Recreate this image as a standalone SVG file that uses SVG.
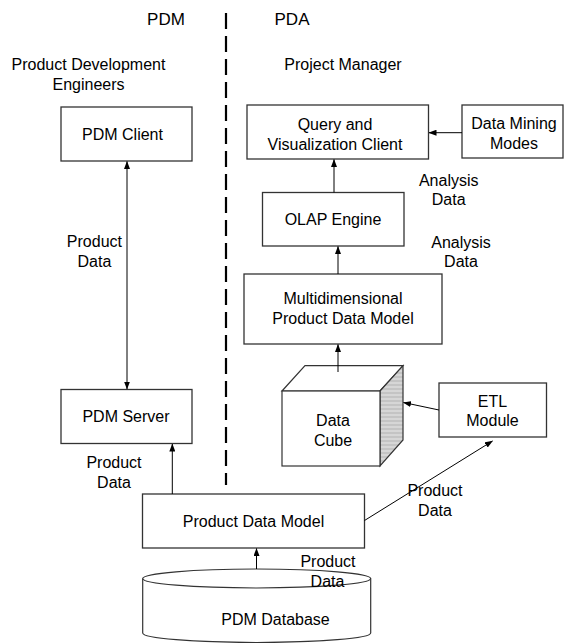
<svg xmlns="http://www.w3.org/2000/svg" width="566" height="643" viewBox="0 0 566 643">
<style>
text{font-family:"Liberation Sans",Arial,sans-serif;font-size:16px;fill:#000;text-anchor:middle}
.title{font-size:17px}
.box{fill:#fff;stroke:#333;stroke-width:1.3}
.ln{fill:none;stroke:#000;stroke-width:1}
</style>
<defs>
<marker id="ah" markerWidth="8" markerHeight="6" refX="7.5" refY="3" orient="auto" markerUnits="userSpaceOnUse">
<path d="M0,0 L8,3 L0,6 z" fill="#000"/>
</marker>
<marker id="ahs" markerWidth="8" markerHeight="6" refX="0.5" refY="3" orient="auto" markerUnits="userSpaceOnUse">
<path d="M8,0 L0,3 L8,6 z" fill="#000"/>
</marker>
<pattern id="stripes" width="6" height="4" patternUnits="userSpaceOnUse">
<rect width="6" height="4" fill="#d6d6d6"/>
<rect width="6" height="2" fill="#c4c4c4"/>
</pattern>
</defs>
<rect width="566" height="643" fill="#fff"/>

<g id="titles">
<text class="title" x="166" y="25">PDM</text>
<text class="title" x="292" y="25">PDA</text>
<line x1="226" y1="13" x2="226" y2="485" stroke="#000" stroke-width="2.2" stroke-dasharray="16 7"/>
</g>

<g id="engineers">
<text x="88.5" y="70">Product Development</text>
<text x="88.5" y="90">Engineers</text>
</g>
<g id="project-manager">
<text x="343" y="70">Project Manager</text>
</g>

<g id="pdm-client">
<rect class="box" x="61" y="107" width="131" height="54"/>
<text x="122.5" y="139.5">PDM Client</text>
</g>

<g id="query-client">
<rect class="box" x="247" y="105" width="181.5" height="54"/>
<text x="335" y="129.5">Query and</text>
<text x="335" y="150">Visualization Client</text>
</g>

<g id="data-mining">
<rect class="box" x="462" y="105" width="101" height="53"/>
<text x="514" y="129">Data Mining</text>
<text x="514" y="149">Modes</text>
</g>

<g id="olap">
<rect class="box" x="262.5" y="192.5" width="141.5" height="53.5"/>
<text x="333" y="225">OLAP Engine</text>
</g>

<g id="multidim">
<rect class="box" x="244" y="274" width="198" height="70"/>
<text x="343" y="303.5">Multidimensional</text>
<text x="343" y="323.5">Product Data Model</text>
</g>

<g id="data-cube">
<polygon points="282,391 305,365.7 403,365.7 380,391" fill="#fff" stroke="#333" stroke-width="1.2"/>
<polygon points="380,391 403,365.7 403,440 380,466" fill="url(#stripes)" stroke="#333" stroke-width="1.2"/>
<rect x="282" y="391" width="98" height="75" fill="#fff" stroke="#333" stroke-width="1.2"/>
<text x="333" y="426">Data</text>
<text x="333" y="446">Cube</text>
</g>

<g id="etl">
<rect class="box" x="439" y="383" width="107.5" height="54"/>
<text x="492.5" y="406.5">ETL</text>
<text x="492.5" y="426">Module</text>
</g>

<g id="pdm-server">
<rect class="box" x="61" y="389.5" width="131" height="54"/>
<text x="126" y="421.5">PDM Server</text>
</g>

<g id="product-data-model">
<rect class="box" x="142.5" y="494" width="222" height="54"/>
<text x="253.5" y="527">Product Data Model</text>
</g>

<g id="pdm-database">
<path d="M142.7,578.5 L142.7,633 A114,9.5 0 0 0 370.7,633 L370.7,578.5" fill="#fff" stroke="#333" stroke-width="1.2"/>
<ellipse cx="256.7" cy="578.5" rx="114" ry="9.5" fill="#fff" stroke="#333" stroke-width="1.2"/>
<text x="275.5" y="625">PDM Database</text>
</g>

<g id="connectors">
<line class="ln" x1="127" y1="161.5" x2="127" y2="389" marker-start="url(#ahs)" marker-end="url(#ah)"/>
<line class="ln" x1="462" y1="132.7" x2="429" y2="132.7" marker-end="url(#ah)"/>
<line class="ln" x1="334" y1="192.5" x2="334" y2="159.5" marker-end="url(#ah)"/>
<line class="ln" x1="338" y1="274" x2="338" y2="246.5" marker-end="url(#ah)"/>
<line class="ln" x1="338" y1="372" x2="338" y2="344.5" marker-end="url(#ah)"/>
<line class="ln" x1="439" y1="410" x2="403.5" y2="402.5" marker-end="url(#ah)"/>
<line class="ln" x1="172.3" y1="494" x2="172.3" y2="444" marker-end="url(#ah)"/>
<line class="ln" x1="364.5" y1="520.5" x2="492.5" y2="441" marker-end="url(#ah)"/>
<line class="ln" x1="256.5" y1="569" x2="256.5" y2="548.5" marker-end="url(#ah)"/>
</g>

<g id="labels">
<text x="94.4" y="246.7">Product</text>
<text x="94.4" y="266.5">Data</text>
<text x="448.7" y="186">Analysis</text>
<text x="448.7" y="205">Data</text>
<text x="461" y="247.7">Analysis</text>
<text x="461" y="266.7">Data</text>
<text x="114" y="468.3">Product</text>
<text x="114" y="488.3">Data</text>
<text x="435" y="496">Product</text>
<text x="435" y="515.5">Data</text>
<text x="328" y="567">Product</text>
<text x="327.5" y="586.5">Data</text>
</g>
</svg>
